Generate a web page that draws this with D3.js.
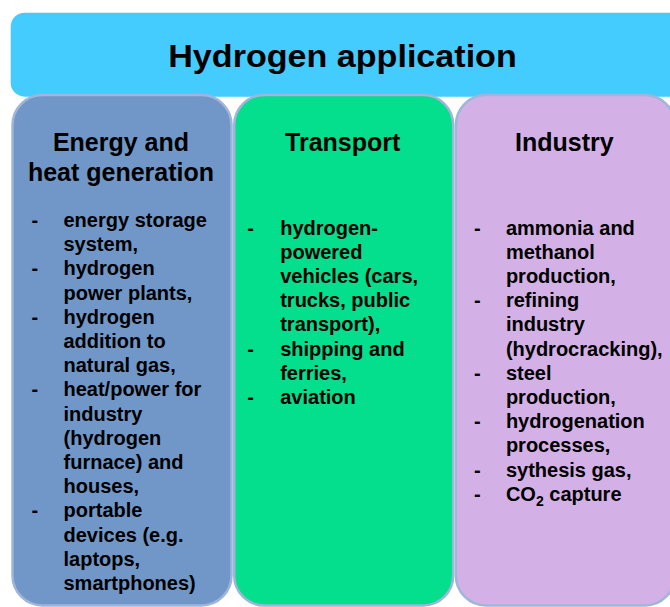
<!DOCTYPE html>
<html>
<head>
<meta charset="utf-8">
<script src="https://cdn.jsdelivr.net/npm/d3@7"></script>
<style>
	html, body { margin: 0; padding: 0; background: #fff; }
	svg { display: block; font-family: "Liberation Sans", Arial, sans-serif; font-weight: bold; }
</style>
</head>
<body>
<svg id="chart" width="670" height="607"></svg>
<script>
var mainTitle = 'Hydrogen application';

var categories = ['energy', 'transport', 'industry'];

var headings = [
	['Energy and', 'heat generation'],
	['Transport'],
	['Industry']
];

var fills = ['#7097c8', '#03df8c', '#d3b1e6'];

// each item is a list of wrapped lines
var energyItems = [
	['energy storage', 'system,'],
	['hydrogen', 'power plants,'],
	['hydrogen', 'addition to', 'natural gas,'],
	['heat/power for', 'industry', '(hydrogen', 'furnace) and', 'houses,'],
	['portable', 'devices (e.g.', 'laptops,', 'smartphones)']
];

var transportItems = [
	['hydrogen-', 'powered', 'vehicles (cars,', 'trucks, public', 'transport),'],
	['shipping and', 'ferries,'],
	['aviation']
];

var industryItems = [
	['ammonia and', 'methanol', 'production,'],
	['refining', 'industry', '(hydrocracking),'],
	['steel', 'production,'],
	['hydrogenation', 'processes,'],
	['sythesis gas,'],
	['CO₂ capture']
];

var items = [energyItems, transportItems, industryItems];

var WIDTH = 670, HEIGHT = 607,
	colTop = 95, colWidth = 219, colStep = 221.7,
	dashOffset = [19, 13, 18],
	textOffset = [51, 46, 50],
	firstLine = [227, 234.5, 234.5],
	lineStep = 24.2;

var svg = d3.select('#chart');

var x = d3.scaleBand()
	.domain(categories)
	.range([12.5, 12.5 + colStep * categories.length])
	.paddingInner(0);

// banner
svg.append('rect')
	.attr('x', 10.7)
	.attr('y', 12.7)
	.attr('width', WIDTH + 20)
	.attr('height', 84)
	.attr('rx', 14)
	.attr('fill', '#45ccff');

svg.append('text')
	.attr('text-anchor', 'middle')
	.attr('transform', 'translate(342.5,67) scale(1.1,1)')
	.attr('font-size', 31)
	.attr('fill', '#000')
	.text(mainTitle);

var cols = svg.selectAll('g.col')
	.data(categories)
	.enter()
	.append('g')
	.attr('class', 'col')
	.attr('transform', function (d) { return 'translate(' + x(d) + ',0)'; });

cols.append('rect')
	.attr('x', 0)
	.attr('y', colTop)
	.attr('width', colWidth)
	.attr('height', HEIGHT - colTop - 1.5)
	.attr('rx', 30)
	.attr('fill', function (d, i) { return fills[i]; })
	.attr('stroke', '#9fb5da')
	.attr('stroke-width', 2.5);

cols.each(function (d, i) {
	var g = d3.select(this);

	g.selectAll('text.head')
		.data(headings[i])
		.enter()
		.append('text')
		.attr('class', 'head')
		.attr('text-anchor', 'middle')
		.attr('x', colWidth / 2 - 1)
		.attr('y', function (h, k) { return 151 + k * 30; })
		.attr('font-size', 25)
		.text(function (h) { return h; });

	// flatten into lines, remembering where each item starts
	var lines = [];
	items[i].forEach(function (item) {
		item.forEach(function (l, k) {
			lines.push({ text: l, first: k === 0 });
		});
	});

	var y = d3.scaleLinear()
		.domain([0, 1])
		.range([firstLine[i], firstLine[i] + lineStep]);

	var row = g.selectAll('g.line')
		.data(lines)
		.enter()
		.append('g')
		.attr('class', 'line')
		.attr('transform', function (l, k) { return 'translate(0,' + y(k) + ')'; });

	row.filter(function (l) { return l.first; })
		.append('text')
		.attr('x', dashOffset[i])
		.attr('font-size', 20)
		.text('-');

	row.append('text')
		.attr('x', textOffset[i])
		.attr('font-size', 20)
		.each(function (l) {
			var t = d3.select(this);
			var parts = l.text.split('₂');
			if (parts.length === 1) {
				t.text(l.text);
				return;
			}
			t.append('tspan').text(parts[0]);
			t.append('tspan').attr('dy', 5).attr('font-size', 14).text('2');
			t.append('tspan').attr('dy', -5).text(parts[1]);
		});
});
</script>
</body>
</html>
